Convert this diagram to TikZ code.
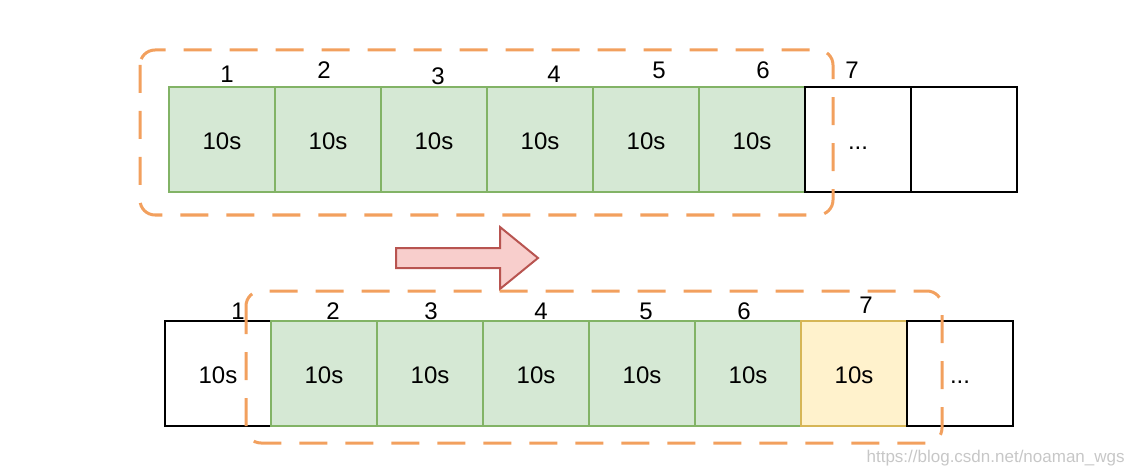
\documentclass[tikz,border=0pt]{standalone}
\usepackage{fontspec}
\setmainfont{Liberation Sans}
\usetikzlibrary{positioning}

\definecolor{donefill}{HTML}{D5E8D4}
\definecolor{doneline}{HTML}{82B366}
\definecolor{newfill}{HTML}{FFF2CC}
\definecolor{newline}{HTML}{D6B656}
\definecolor{winline}{HTML}{F2A05E}
\definecolor{shiftfill}{HTML}{F8CECC}
\definecolor{shiftline}{HTML}{B85450}

\begin{document}
\begin{tikzpicture}[x=0.5pt,y=-0.5pt,
	cell/.style={draw,line width=1pt,minimum width=53pt,minimum height=52.5pt,
		inner sep=0pt,outer sep=0pt,text height=0.97em,text depth=0pt,
		font=\fontsize{12}{14}\selectfont},
	done/.style={cell,fill=donefill,draw=doneline},
	fresh/.style={cell,fill=newfill,draw=newline},
	window/.style={draw=winline,line width=1.5pt,dash pattern=on 14pt off 9pt,
		rounded corners=7.5pt},
	num/.style={inner sep=0pt,font=\fontsize{12}{14}\selectfont}]
	\useasboundingbox (0,0) rectangle (1136,476);
	% before: window over buckets 1-6
	\node[done] (a1) at (222,139.5) {10s};
	\foreach \X [remember=\X as \P (initially 1)] in {2,...,6}
	{\node[done,right=0pt of a\P] (a\X) {10s};}
	\node[cell,right=0pt of a6] (a7) {...};
	\node[cell,right=0pt of a7] (a8) {};
	\foreach \X/\x/\y in {1/227/74,2/324/70,3/438/76,4/554/74,5/659/70,6/763/70,7/852/70}
	{\node[num] (na\X) at (\x,\y) {\X};}
	\draw[window] (140,50) rectangle (833,215);
	% shift
	\draw[fill=shiftfill,draw=shiftline,line width=1pt,line join=miter]
		(396,248) -- (500,248) -- (500,227) -- (538,258) -- (500,289) -- (500,268) -- (396,268) -- cycle;
	% after: window over buckets 2-7
	\node[cell] (b1) at (218,373.5) {10s};
	\foreach \X [remember=\X as \P (initially 1)] in {2,...,6}
	{\node[done,right=0pt of b\P] (b\X) {10s};}
	\node[fresh,right=0pt of b6] (b7) {10s};
	\node[cell,right=0pt of b7] (b8) {...};
	\foreach \X/\x/\y in {1/238/311,2/333/311,3/431/311,4/541/311,5/646/311,6/744/311,7/866/305}
	{\node[num] (nb\X) at (\x,\y) {\X};}
	\draw[window] (246,291) rectangle (942,443);
	\node[anchor=east,inner sep=0pt,text=black!22,font=\fontsize{8.5}{10}\selectfont] (mark) at (1125,458) {https://blog.csdn.net/noaman\_wgs};
\end{tikzpicture}
\end{document}
